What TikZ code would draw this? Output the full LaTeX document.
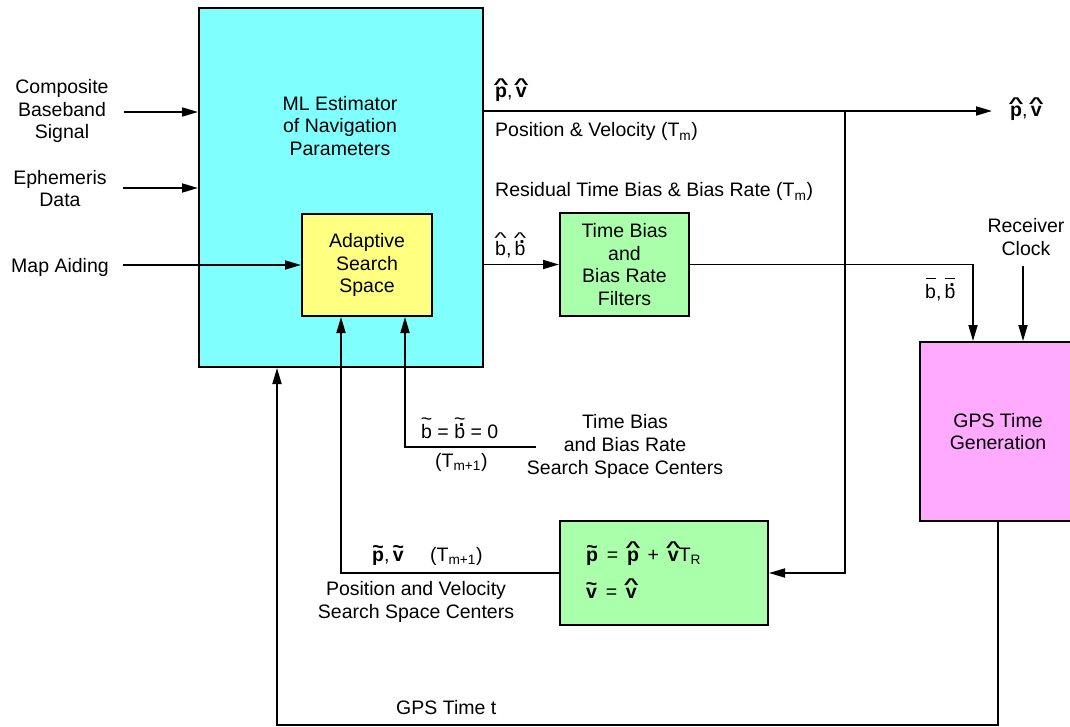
\documentclass[tikz,border=0pt]{standalone}
\usepackage[no-math]{fontspec}
\setmainfont{Liberation Sans}
\usetikzlibrary{arrows.meta}

\definecolor{mlcyan}{RGB}{128,255,255}
\definecolor{assyellow}{RGB}{255,255,128}
\definecolor{filtgreen}{RGB}{170,255,170}
\definecolor{gpspink}{RGB}{255,170,255}

\newcommand\diagfont{\fontsize{19.5}{22.7}\selectfont}
% a mark centred over a letter, raised by the given amount
\newcommand\putover[3]{\ooalign{#1\cr\hidewidth\raisebox{#2}{#3}\hidewidth\cr}}
\newcommand\caret{\scalebox{1.35}[0.8]{\symbol{"5E}}}
\newcommand\squig{\symbol{"7E}}
\newcommand\dotmark{\hspace{0.2em}\raisebox{0.6em}{\bfseries.}}
\newcommand\hatbf[1]{\putover{\bfseries #1}{0.42em}{\bfseries\caret}}
\newcommand\tilbf[1]{\putover{\bfseries #1}{0.36em}{\bfseries\squig}}
\newcommand\hatb{\putover{b}{0.6em}{\caret}}
\newcommand\hatbdot{\ooalign{b\cr\hidewidth\dotmark\hidewidth\cr
  \hidewidth\raisebox{0.6em}{\caret}\hidewidth\cr}}
\newcommand\tilb{\putover{b}{0.62em}{\squig}}
\newcommand\tilbdot{\ooalign{b\cr\hidewidth\dotmark\hidewidth\cr
  \hidewidth\raisebox{0.62em}{\squig}\hidewidth\cr}}
\newcommand\barb{\putover{b}{0.98em}{\rule{0.5em}{0.07em}}}
\newcommand\barbdot{\ooalign{b\cr\hidewidth\dotmark\hidewidth\cr
  \hidewidth\raisebox{0.98em}{\rule{0.5em}{0.07em}}\hidewidth\cr}}
\newcommand\gap{\hspace{0.45em}}

\begin{document}
\begin{tikzpicture}[x=1pt,y=-1pt,font=\diagfont,
  box/.style={draw, line width=2pt, inner sep=0pt, align=center},
  arr/.style={line width=1.8pt, -{Triangle[length=16pt,width=9pt]}},
  lbl/.style={inner sep=0pt, align=center}]
\useasboundingbox (0,0) rectangle (1070,727);
\clip (0,0) rectangle (1070,727);
\fill[white] (0,0) rectangle (1070,727);

% blocks
\node[box, fill=mlcyan, minimum width=284pt, minimum height=359pt] (ml) at (341,187.5) {};
\node[lbl] (mltext) at (340,126) {ML Estimator\\of Navigation\\Parameters};
\node[box, fill=assyellow, minimum width=130pt, minimum height=102pt] (ass) at (367,265) {Adaptive\\Search\\Space};
\node[box, fill=filtgreen, minimum width=129pt, minimum height=103pt] (tbf) at (624.5,264.5) {Time Bias\\and\\Bias Rate\\Filters};
\node[box, fill=gpspink, minimum width=156pt, minimum height=179pt] (gps) at (998,431.5) {GPS Time\\Generation};
\node[box, fill=filtgreen, minimum width=208pt, minimum height=104pt] (pvbox) at (664,573) {};
\node[lbl, anchor=base west] (pveq) at (586,561)
  {\tilbf{p}\gap=\gap\hatbf{p}\gap+\gap\hatbf{v}T\textsubscript{R}};
\node[lbl, anchor=base west] (veq) at (586,598) {\tilbf{v}\gap=\gap\hatbf{v}};

% input labels
\node[lbl] (cbs) at (62,111) {Composite\\Baseband\\Signal};
\node[lbl] (eph) at (60,188.5) {Ephemeris\\Data};
\node[lbl] (map) at (60,267) {Map Aiding};
\node[lbl] (rc) at (1026,237) {Receiver\\Clock};

% connector ends
\coordinate (in1) at (124,112);
\coordinate (in2) at (123,188);
\coordinate (in3) at (123,265);
\coordinate (pvout) at (992,111);
\coordinate (j1) at (845,111);
\coordinate (bcol) at (973,0);
\coordinate (rcs) at (1023,266);
\coordinate (gl) at (277,725);
\coordinate (tbend) at (536,447);
\coordinate (tbc) at (405,447);
\coordinate (pvc) at (341,573);

% connectors
\draw[arr] (in1) -- (in1 -| ml.west);
\draw[arr] (in2) -- (in2 -| ml.west);
\draw[arr] (in3) -- (in3 -| ass.west);
\draw[arr] (ml.east |- pvout) -- (pvout);
\draw[arr] (j1) |- (pvbox.east);
\draw[arr] (ml.east |- tbf.west) -- (tbf.west);
\draw[arr] (tbf.east) -| (bcol |- gps.north);
\draw[arr] (rcs) -- (rcs |- gps.north);
\draw[arr] (gps.south) |- (gl) -- (gl |- ml.south);
\draw[arr] (tbend) -- (tbc) -- (tbc |- ass.south);
\draw[arr] (pvbox.west) -- (pvc) -- (pvc |- ass.south);

% signal labels
\node[lbl, anchor=base west] (pvhat) at (495,98) {\hatbf{p},\,\hatbf{v}};
\node[lbl, anchor=base west] (pvhatout) at (1010,117) {\hatbf{p},\,\hatbf{v}};
\node[lbl, anchor=base west] (pvtxt) at (495,137) {Position \& Velocity (T\textsubscript{m})};
\node[lbl, anchor=base west] (restxt) at (495,197) {Residual Time Bias \& Bias Rate (T\textsubscript{m})};
\node[lbl, anchor=base west] (bhat) at (495,255) {\hatb,\,\hatbdot};
\node[lbl, anchor=base west] (bbar) at (925,298) {\barb,\,\barbdot};
\node[lbl, anchor=base west] (btil) at (421,438) {\tilb{} = \tilbdot{} = 0};
\node[lbl, anchor=base west] (tm1a) at (435,467) {(T\textsubscript{m+1})};
\node[lbl] (tbsc) at (625,446.5) {Time Bias\\and Bias Rate\\Search Space Centers};
\node[lbl, anchor=base west] (pvtil) at (372,561) {\tilbf{p},\,\tilbf{v}};
\node[lbl, anchor=base west] (tm1b) at (430,561) {(T\textsubscript{m+1})};
\node[lbl] (pvsc) at (416,602) {Position and Velocity\\Search Space Centers};
\node[lbl, anchor=base west] (gpst) at (396,714) {GPS Time t};
\end{tikzpicture}
\end{document}
